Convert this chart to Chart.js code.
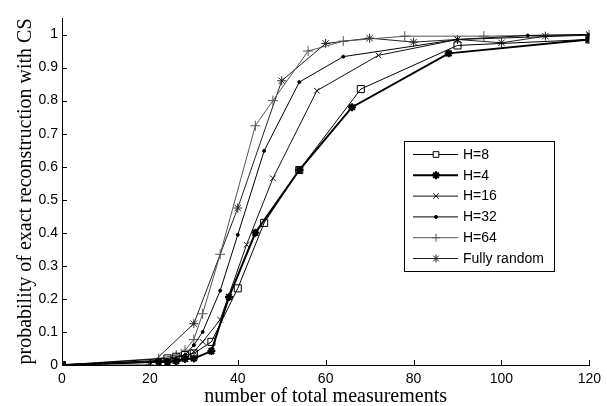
<!DOCTYPE html>
<html>
<head>
<meta charset="utf-8">
<script src="https://cdn.jsdelivr.net/npm/chart.js@4.4.1/dist/chart.umd.min.js"></script>
<style>
  html, body { margin: 0; padding: 0; background: #fff; }
</style>
</head>
<body>
<canvas id="chart" width="607" height="406"></canvas>
<script>
// number of measurements (x) and success probability (y) for each curve
const h8X = [0, 24, 26, 28, 30, 34, 40, 46, 54, 68, 90, 120];
const h8Y = [0, 0.02, 0.025, 0.03, 0.035, 0.07, 0.232, 0.43, 0.59, 0.835, 0.967, 0.985];

const h4X = [0, 22, 24, 26, 28, 30, 34, 38, 44, 54, 66, 88, 120];
const h4Y = [0, 0.01, 0.01, 0.012, 0.018, 0.02, 0.042, 0.206, 0.4, 0.59, 0.78, 0.943, 0.985];

const h16X = [0, 24, 26, 28, 30, 32, 36, 42, 48, 58, 72, 90, 120];
const h16Y = [0, 0.01, 0.003, 0.02, 0.04, 0.07, 0.137, 0.364, 0.565, 0.83, 0.937, 0.985, 0.998];

const h32X = [0, 24, 28, 30, 32, 36, 40, 46, 54, 64, 90, 106, 120];
const h32Y = [0, 0.015, 0.03, 0.06, 0.1, 0.225, 0.394, 0.648, 0.856, 0.933, 0.985, 0.997, 1.0];

const h64X = [0, 22, 26, 28, 30, 32, 36, 44, 48, 56, 64, 78, 96, 120];
const h64Y = [0, 0.02, 0.03, 0.045, 0.077, 0.155, 0.335, 0.724, 0.80, 0.95, 0.98, 0.995, 0.995, 1.0];

const randX = [0, 20, 30, 40, 50, 60, 70, 80, 90, 100, 110, 120];
const randY = [0, 0, 0.125, 0.475, 0.86, 0.973, 0.989, 0.977, 0.985, 0.975, 0.995, 1.0];

const xTicks = [0, 20, 40, 60, 80, 100, 120];
const yTicks = [0, 0.1, 0.2, 0.3, 0.4, 0.5, 0.6, 0.7, 0.8, 0.9, 1];

const toPoints = (xs, ys) => xs.map((x, i) => ({ x: x, y: ys[i] }));

const series = (label, xs, ys, style, color, radius, width) => ({
    label: label,
    data: toPoints(xs, ys),
    borderColor: color,
    backgroundColor: style === 'circle' ? color : 'rgba(0,0,0,0)',
    pointBorderColor: color,
    pointBackgroundColor: style === 'circle' ? color : 'rgba(0,0,0,0)',
    borderWidth: width,
    pointBorderWidth: width,
    pointStyle: style,
    pointRadius: radius,
    tension: 0,
    fill: false
});

const datasets = [
    series('H=8', h8X, h8Y, 'rect', '#000', 5, 1),
    series('H=4', h4X, h4Y, 'star', '#000', 4, 2),
    series('H=16', h16X, h16Y, 'crossRot', '#111', 4, 1),
    series('H=32', h32X, h32Y, 'circle', '#000', 1.5, 1),
    series('H=64', h64X, h64Y, 'cross', '#555', 5, 1),
    series('Fully random', randX, randY, 'star', '#222', 4.5, 1)
];

// small marker drawing for the legend box
const drawMarker = (ctx, style, x, y, r) => {
    ctx.beginPath();
    if (style === 'rect') {
        const s = r * Math.SQRT1_2;
        ctx.fillStyle = '#fff';
        ctx.fillRect(x - s, y - s, 2 * s, 2 * s);
        ctx.rect(x - s, y - s, 2 * s, 2 * s);
    } else if (style === 'circle') {
        ctx.arc(x, y, r, 0, Math.PI * 2);
        ctx.fill();
    } else {
        const d = r * Math.SQRT1_2;
        if (style === 'cross' || style === 'star') {
            ctx.moveTo(x - r, y); ctx.lineTo(x + r, y);
            ctx.moveTo(x, y - r); ctx.lineTo(x, y + r);
        }
        if (style === 'crossRot' || style === 'star') {
            ctx.moveTo(x - d, y - d); ctx.lineTo(x + d, y + d);
            ctx.moveTo(x + d, y - d); ctx.lineTo(x - d, y + d);
        }
    }
    ctx.stroke();
};

const boxLegend = {
    id: 'boxLegend',
    afterDatasetsDraw(chart) {
        const ctx = chart.ctx;
        const left = 404, top = 141, w = 150, h = 130;
        ctx.save();
        ctx.fillStyle = '#fff';
        ctx.fillRect(left, top, w, h);
        ctx.strokeStyle = '#000';
        ctx.lineWidth = 1;
        ctx.strokeRect(left + 0.5, top + 0.5, w, h);
        ctx.font = '14px "Liberation Sans", Arial, sans-serif';
        ctx.textBaseline = 'middle';
        chart.data.datasets.forEach((ds, i) => {
            const y = top + 13.5 + i * 20.8;
            ctx.strokeStyle = ds.borderColor;
            ctx.fillStyle = ds.borderColor;
            ctx.lineWidth = ds.borderWidth;
            ctx.beginPath();
            ctx.moveTo(left + 9, y);
            ctx.lineTo(left + 54, y);
            ctx.stroke();
            drawMarker(ctx, ds.pointStyle, left + 32, y, Math.min(ds.pointRadius, 4));
            ctx.fillStyle = '#000';
            ctx.fillText(ds.label, left + 59, y + 0.5);
        });
        ctx.restore();
    }
};

// ticks pointing into the plot area, like the original
const innerTicks = {
    id: 'innerTicks',
    afterDraw(chart) {
        const ctx = chart.ctx;
        const area = chart.chartArea;
        const xs = chart.scales.x, ys = chart.scales.y;
        ctx.save();
        ctx.strokeStyle = '#000';
        ctx.lineWidth = 1;
        ctx.beginPath();
        xTicks.forEach(v => {
            const px = Math.round(xs.getPixelForValue(v)) + 0.5;
            ctx.moveTo(px, area.bottom);
            ctx.lineTo(px, area.bottom - 5);
        });
        yTicks.forEach(v => {
            const py = Math.round(ys.getPixelForValue(v)) + 0.5;
            ctx.moveTo(area.left, py);
            ctx.lineTo(area.left + 5, py);
        });
        ctx.stroke();
        ctx.restore();
    }
};

const tickFont = { family: '"Liberation Sans", Arial, sans-serif', size: 14 };
const titleFont = { family: '"Liberation Serif", "Times New Roman", serif', size: 20 };

new Chart(document.getElementById('chart'), {
    type: 'line',
    data: { datasets: datasets },
    options: {
        responsive: false,
        animation: false,
        layout: { padding: { top: 18, right: 16, bottom: 0, left: 0 } },
        plugins: {
            legend: { display: false },
            tooltip: { enabled: false }
        },
        scales: {
            x: {
                type: 'linear',
                min: 0,
                max: 120,
                grid: { display: false, drawTicks: false },
                border: { display: true, color: '#000', width: 1 },
                afterBuildTicks: s => { s.ticks = xTicks.map(v => ({ value: v })); },
                afterFit: s => { s.height = 41; },
                ticks: { color: '#000', font: tickFont, padding: 6, maxRotation: 0 },
                title: {
                    display: true,
                    text: 'number of total measurements',
                    color: '#000',
                    font: titleFont,
                    padding: { top: 0, bottom: -3 }
                }
            },
            y: {
                type: 'linear',
                min: 0,
                max: 1.05,
                grid: { display: false, drawTicks: false },
                border: { display: true, color: '#000', width: 1 },
                afterBuildTicks: s => { s.ticks = yTicks.map(v => ({ value: v })); },
                afterFit: s => { s.width = 62; },
                ticks: {
                    color: '#000',
                    font: tickFont,
                    padding: 4,
                    callback: v => String(+v.toFixed(2))
                },
                title: {
                    display: true,
                    text: 'probability of exact reconstruction with CS',
                    color: '#000',
                    font: titleFont,
                    padding: { top: 14, bottom: 0 }
                }
            }
        }
    },
    plugins: [boxLegend, innerTicks]
});
</script>
</body>
</html>
